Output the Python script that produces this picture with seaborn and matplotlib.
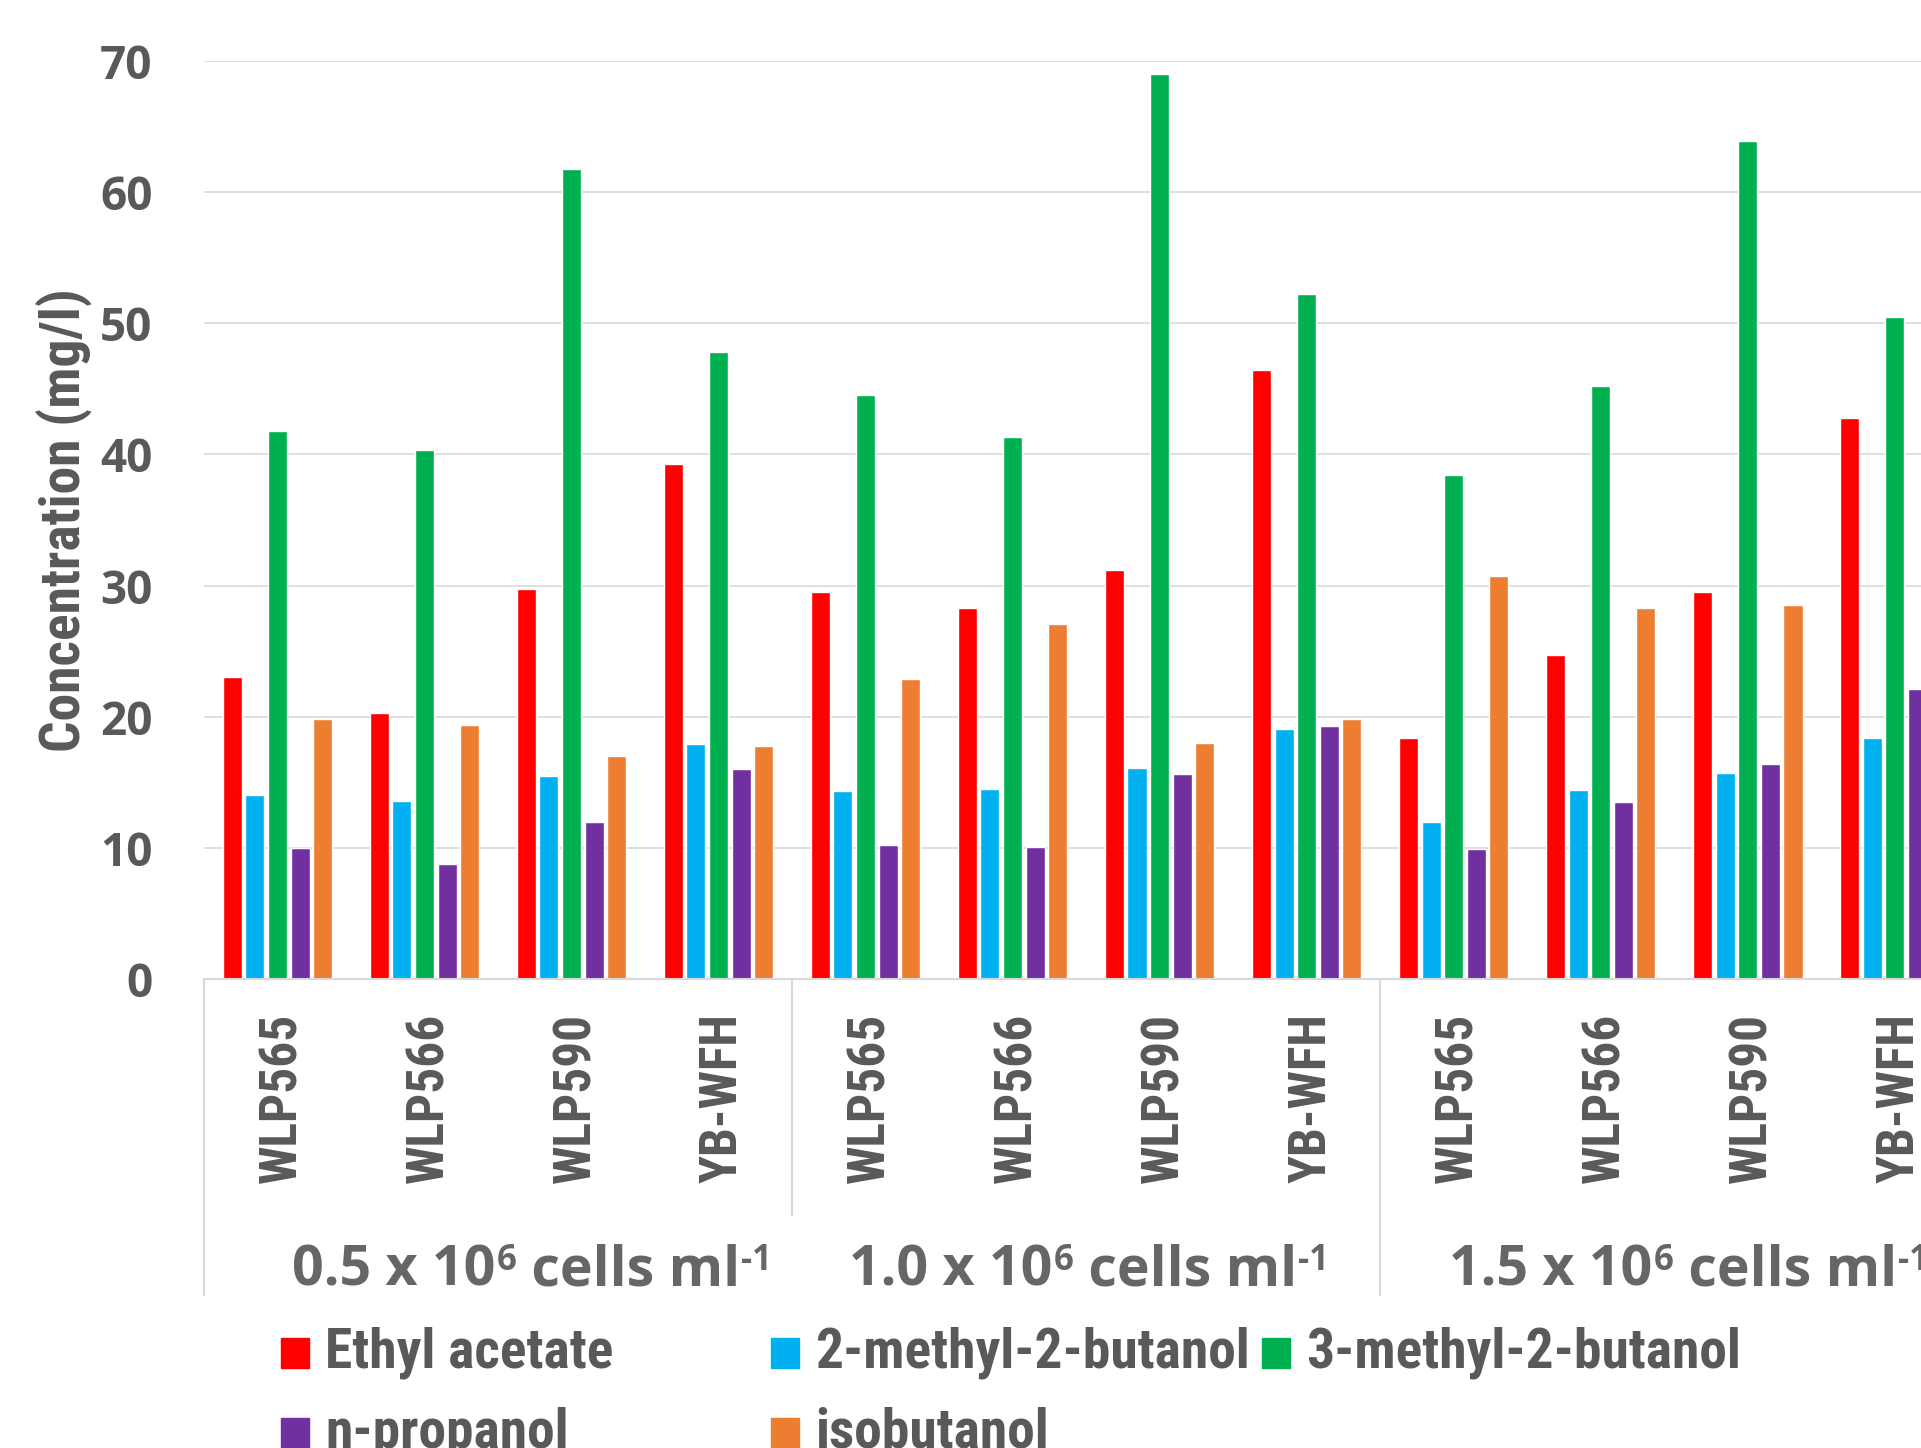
import numpy as np
import pandas as pd
import matplotlib
matplotlib.use("Agg")
import matplotlib.pyplot as plt
import matplotlib.transforms as mtransforms
from matplotlib.patches import Rectangle
import seaborn as sns

# ---- data -------------------------------------------------------------
densities = ["0.5", "1.0", "1.5"]
strains = ["WLP565", "WLP566", "WLP590", "YB-WFH"]
compounds = ["Ethyl acetate", "2-methyl-2-butanol", "3-methyl-2-butanol",
             "n-propanol", "isobutanol"]

# values per density block, ordered by strain
ethyl_acetate = [23.0, 20.3, 29.7, 39.3,   29.5, 28.3, 31.2, 46.4,   18.4, 24.7, 29.5, 42.8]
methyl2_butanol2 = [14.0, 13.6, 15.5, 17.9, 14.3, 14.5, 16.1, 19.1, 12.0, 14.4, 15.7, 18.4]
methyl3_butanol2 = [41.8, 40.3, 61.8, 47.8, 44.5, 41.3, 69.0, 52.2, 38.4, 45.2, 63.9, 50.5]
n_propanol = [10.0, 8.8, 12.0, 16.0,       10.2, 10.1, 15.6, 19.3,   9.9, 13.5, 16.4, 22.1]
isobutanol = [19.8, 19.4, 17.0, 17.8,      22.9, 27.1, 18.0, 19.8,   30.7, 28.3, 28.5, None]

palette = ["#FF0000", "#00B0F0", "#00B050", "#7030A0", "#ED7D31"]

series = [ethyl_acetate, methyl2_butanol2, methyl3_butanol2, n_propanol, isobutanol]
keys = [f"{d}|{s}" for d in densities for s in strains]
rows = []
for comp, vals in zip(compounds, series):
    for k, v in zip(keys, vals):
        if v is not None:
            rows.append({"slot": k, "compound": comp, "conc": v})
df = pd.DataFrame(rows)

# ---- style ------------------------------------------------------------
sns.set_theme(style="white")
narrow = ["Liberation Sans Narrow", "Roboto Condensed", "Liberation Sans", "DejaVu Sans"]
plt.rcParams["font.family"] = narrow
TXT = "#595959"
GRP = "#666666"
GRID = "#D9D9D9"

W, H = 1921.0, 1448.0
fig = plt.figure(figsize=(W / 100, H / 100), dpi=100)
ax = fig.add_axes([0.1062, 0.3239, 0.9184, 0.634])

sns.barplot(data=df, x="slot", y="conc", hue="compound", order=keys,
            hue_order=compounds, palette=palette, width=0.77, gap=0.16,
            saturation=1, legend=False, ax=ax)

ax.set_xlim(-0.5, 11.5)
ax.set_ylim(0, 70)
ax.set_yticks(np.arange(0, 71, 10))
ax.yaxis.grid(True, color=GRID, linewidth=1.2)
ax.set_axisbelow(True)
for side in ["left", "right", "top"]:
    ax.spines[side].set_visible(False)
ax.spines["bottom"].set_color(GRID)
ax.spines["bottom"].set_linewidth(1.5)

ax.tick_params(axis="y", length=0, pad=37)
for lab in ax.get_yticklabels():
    lab.set_fontfamily(["Open Sans", "DejaVu Sans"])
    lab.set_fontweight("bold")
    lab.set_fontsize(33)
    lab.set_color(TXT)

# strain names under each cluster
ax.set_xticks(range(len(keys)))
ax.set_xticklabels([])
ax.tick_params(axis="x", length=0)
ax.set_xlabel("")
trans = mtransforms.blended_transform_factory(ax.transData, ax.transAxes)
for i, k in enumerate(keys):
    ax.text(i + 0.03, -0.037, k.split("|")[1], transform=trans, rotation=90,
            ha="center", va="top", fontsize=37, fontweight="bold", color=TXT)

ax.set_ylabel("Concentration (mg/l)", fontsize=40, fontweight="bold",
              color=TXT, va="center")
ax.yaxis.set_label_coords(-0.079, 0.5)

# group separators
for xb, ylow in [(-0.5, -0.344), (3.5, -0.257), (7.5, -0.344), (11.5, -0.344)]:
    ax.plot([xb, xb], [0, ylow], color=GRID, linewidth=1.5,
            transform=trans, clip_on=False)

# density labels with superscripts, built from chained text pieces
group_left = [292, 849, 1449]
base_y = 1 - 1285 / H
gkw = dict(fontweight="bold", color=GRP, family=["Open Sans", "DejaVu Sans"])
for gx, d in zip(group_left, densities):
    t1 = fig.text(gx / W, base_y, f"{d} x 10", ha="left", va="baseline",
                  fontsize=40, **gkw)
    s1 = ax.annotate("6", xy=(1, 1), xycoords=t1, xytext=(1, 0),
                     textcoords="offset points", ha="left", va="top",
                     fontsize=25, annotation_clip=False, **gkw)
    t2 = ax.annotate(" cells ml", xy=(1, base_y), xycoords=(s1, "figure fraction"),
                     ha="left", va="baseline", fontsize=40,
                     annotation_clip=False, **gkw)
    ax.annotate("-1", xy=(1, 1), xycoords=t2, xytext=(1, 0),
                textcoords="offset points", ha="left", va="top",
                fontsize=25, annotation_clip=False, **gkw)

# legend laid out in equal-width columns
leg_pos = [(281, 1353), (771, 1353), (1262, 1353), (281, 1433), (771, 1433)]
for (px, py), comp, col in zip(leg_pos, compounds, palette):
    fig.patches.append(Rectangle((px / W, 1 - (py + 15) / H), 28 / W, 30 / H,
                                 transform=fig.transFigure, color=col))
    fig.text((px + 44) / W, 1 - py / H, comp, ha="left", va="center",
             fontsize=40, fontweight="bold", color=TXT)

fig.savefig("out.png", dpi=100)
